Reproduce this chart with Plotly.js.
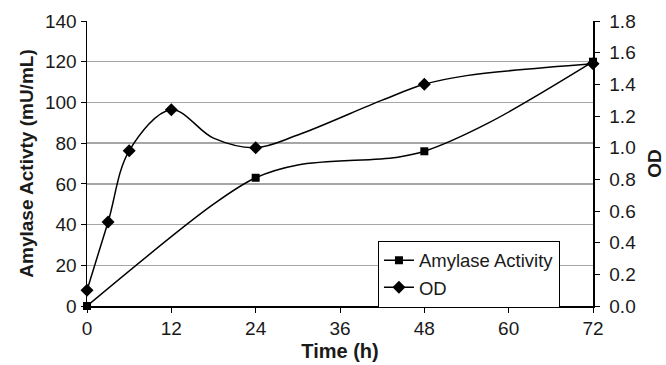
<!DOCTYPE html>
<html>
<head>
<meta charset="utf-8">
<script src="https://cdn.plot.ly/plotly-3.0.1.min.js"></script>
<style>
html,body{margin:0;padding:0;background:#fff;}
#chart{width:666px;height:365px;}
</style>
</head>
<body>
<div id="chart"></div>
<script>
// Amylase activity (mU/mL) – marked samples
const amyTime = [0, 24, 48, 72];
const amyValue = [0, 63, 76, 120];
// Amylase smoothed line as drawn (includes unmarked vertices)
const amyLineTime = [0, 18, 24, 30, 44, 48, 57, 72];
const amyLineValue = [0, 50, 63, 69.3, 73, 76, 89.7, 120];

// OD – marked samples
const odTime = [0, 3, 6, 12, 24, 48, 72];
const odValue = [0.10, 0.53, 0.98, 1.24, 1.00, 1.40, 1.53];
// OD smoothed line as drawn (includes unmarked vertices)
const odLineTime = [0, 3, 6, 12, 18, 24, 30, 42, 48, 54, 72];
const odLineValue = [0.10, 0.53, 0.98, 1.24, 1.06, 1.00, 1.08, 1.30, 1.40, 1.455, 1.53];

const xTicks = [0, 12, 24, 36, 48, 60, 72];

const FONT = 'Liberation Sans, Arial, sans-serif';
const TXT = '#1a1a1a';
const lineStyle = {color: '#000', width: 1.5, shape: 'spline', smoothing: 1};

const traces = [
  {x: amyLineTime, y: amyLineValue, mode: 'lines', line: lineStyle, showlegend: false, hoverinfo: 'skip', cliponaxis: false},
  {x: odLineTime, y: odLineValue, yaxis: 'y2', mode: 'lines', line: lineStyle, showlegend: false, hoverinfo: 'skip', cliponaxis: false},
  {x: amyTime, y: amyValue, mode: 'markers', marker: {symbol: 'square', size: 8, color: '#000'}, showlegend: false, cliponaxis: false},
  {x: odTime, y: odValue, yaxis: 'y2', mode: 'markers', marker: {symbol: 'diamond', size: 10, color: '#000'}, showlegend: false, cliponaxis: false},
  {x: [null], y: [null], name: 'Amylase Activity', mode: 'lines+markers', line: {color: '#000', width: 1.5}, marker: {symbol: 'square', size: 8, color: '#000'}},
  {x: [null], y: [null], name: 'OD', mode: 'lines+markers', line: {color: '#000', width: 1.5}, marker: {symbol: 'diamond', size: 10, color: '#000'}}
];

const layout = {
  width: 666, height: 365,
  margin: {l: 87, r: 73, t: 21, b: 59},
  paper_bgcolor: '#fff', plot_bgcolor: '#fff',
  font: {family: FONT, size: 18, color: TXT},
  showlegend: true,
  legend: {
    x: 0.575, y: 0.229, xanchor: 'left', yanchor: 'top',
    bgcolor: '#fff', bordercolor: '#000', borderwidth: 1,
    font: {family: FONT, size: 18.5, color: TXT},
    entrywidth: 150, entrywidthmode: 'pixels',
    tracegroupgap: 0
  },
  xaxis: {
    range: [0, 72], tickvals: xTicks, ticktext: xTicks.map(String),
    showgrid: false, zeroline: false,
    showline: true, linecolor: '#000', linewidth: 1.5,
    ticks: 'outside', ticklen: 5, tickcolor: '#000', tickwidth: 1,
    tickfont: {family: FONT, size: 19, color: TXT},
    title: {text: 'Time (h)', font: {family: FONT, size: 20, color: TXT, weight: 'bold'}, standoff: 5}
  },
  yaxis: {
    range: [0, 140], dtick: 20, tick0: 0,
    showgrid: true, gridcolor: '#a6a6a6', gridwidth: 1.5,
    zeroline: false,
    showline: true, linecolor: '#000', linewidth: 1.5,
    ticks: 'outside', ticklen: 5, tickcolor: '#000', tickwidth: 1,
    tickfont: {family: FONT, size: 19, color: TXT},
    title: {text: 'Amylase Activty (mU/mL)', font: {family: FONT, size: 19, color: TXT, weight: 'bold'}, standoff: 6}
  },
  yaxis2: {
    range: [0, 1.8], dtick: 0.2, tick0: 0, tickformat: '.1f',
    overlaying: 'y', side: 'right',
    showgrid: false, zeroline: false,
    showline: true, linecolor: '#000', linewidth: 1.5,
    ticks: 'outside', ticklen: 5, tickcolor: '#000', tickwidth: 1,
    ticklabelstandoff: 6,
    tickfont: {family: FONT, size: 19, color: TXT},
    title: {text: 'OD', font: {family: FONT, size: 19, color: TXT, weight: 'bold'}, standoff: 12}
  }
};

Plotly.newPlot('chart', traces, layout, {displayModeBar: false, staticPlot: true});
</script>
</body>
</html>
